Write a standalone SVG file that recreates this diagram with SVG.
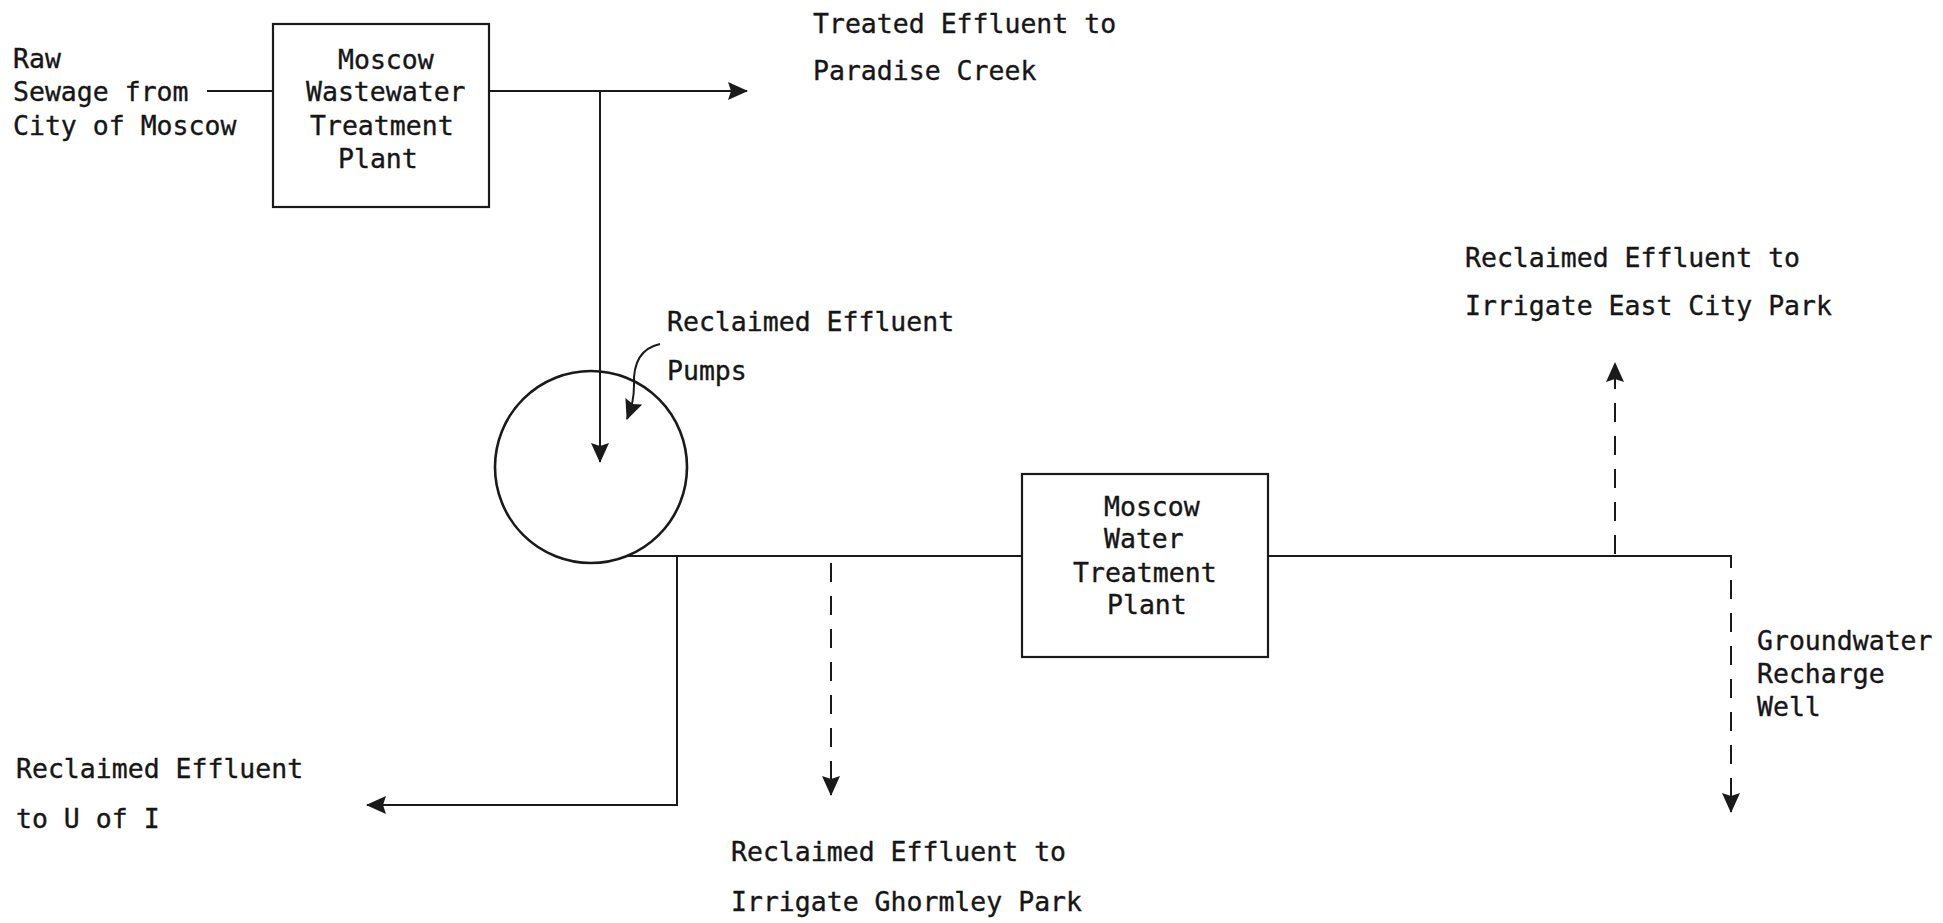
<svg xmlns="http://www.w3.org/2000/svg" width="1943" height="923" viewBox="0 0 1943 923">
  <defs>
    <style>
      .lbl { font-family: "DejaVu Sans Mono", "Liberation Mono", monospace; font-size: 26.5px; fill: #161616; stroke: #161616; stroke-width: 0.35; }
      .box { fill: none; stroke: #1a1a1a; stroke-width: 2.2; }
      .pipe { fill: none; stroke: #1a1a1a; stroke-width: 2; }
      .dash { fill: none; stroke: #1a1a1a; stroke-width: 2; stroke-dasharray: 19 14; }
    </style>
    <marker id="head" viewBox="0 0 20 18" refX="19" refY="9" markerWidth="20" markerHeight="18" markerUnits="userSpaceOnUse" orient="auto">
      <path d="M0,0 L20,9 L0,18 L3,9 z" fill="#1a1a1a"/>
    </marker>
  </defs>
  <rect width="1943" height="923" fill="#ffffff"/>

  <!-- Source label -->
  <g id="raw-sewage">
    <text class="lbl" x="13" y="68">Raw</text>
    <text class="lbl" x="13" y="101">Sewage from</text>
    <text class="lbl" x="13" y="135">City of Moscow</text>
  </g>

  <!-- Wastewater treatment plant -->
  <g id="wwtp">
    <rect class="box" x="273" y="24" width="216" height="183"/>
    <text class="lbl" x="338" y="69">Moscow</text>
    <text class="lbl" x="306" y="101">Wastewater</text>
    <text class="lbl" x="310" y="135">Treatment</text>
    <text class="lbl" x="338" y="168">Plant</text>
  </g>

  <g id="paradise-creek">
    <text class="lbl" x="813" y="33">Treated Effluent to</text>
    <text class="lbl" x="813" y="80">Paradise Creek</text>
  </g>

  <!-- Pump station -->
  <g id="pumps">
    <circle cx="591" cy="467" r="96" fill="none" stroke="#1a1a1a" stroke-width="2.6"/>
    <text class="lbl" x="667" y="331">Reclaimed Effluent</text>
    <text class="lbl" x="667" y="380">Pumps</text>
  </g>

  <!-- Water treatment plant -->
  <g id="wtp">
    <rect class="box" x="1022" y="474" width="246" height="183"/>
    <text class="lbl" x="1104" y="516">Moscow</text>
    <text class="lbl" x="1104" y="548">Water</text>
    <text class="lbl" x="1073" y="582">Treatment</text>
    <text class="lbl" x="1107" y="614">Plant</text>
  </g>

  <g id="u-of-i">
    <text class="lbl" x="16" y="778">Reclaimed Effluent</text>
    <text class="lbl" x="16" y="828">to U of I</text>
  </g>

  <g id="ghormley-park">
    <text class="lbl" x="731" y="861">Reclaimed Effluent to</text>
    <text class="lbl" x="731" y="911">Irrigate Ghormley Park</text>
  </g>

  <g id="east-city-park">
    <text class="lbl" x="1465" y="267">Reclaimed Effluent to</text>
    <text class="lbl" x="1465" y="315">Irrigate East City Park</text>
  </g>

  <g id="recharge-well">
    <text class="lbl" x="1757" y="650">Groundwater</text>
    <text class="lbl" x="1757" y="683">Recharge</text>
    <text class="lbl" x="1757" y="716">Well</text>
  </g>

  <!-- Flow lines -->
  <g id="connectors">
    <line class="pipe" x1="207" y1="91" x2="273" y2="91"/>
    <line class="pipe" x1="489" y1="91" x2="747" y2="91" marker-end="url(#head)"/>
    <line class="pipe" x1="600" y1="91" x2="600" y2="462" marker-end="url(#head)"/>
    <path class="pipe" d="M660,344 C642,348 633,362 634,385 C634,398 632,406 627,419" marker-end="url(#head)"/>
    <line class="pipe" x1="627" y1="556" x2="1022" y2="556"/>
    <polyline class="pipe" points="677,556 677,805 367,805" marker-end="url(#head)"/>
    <line class="dash" x1="831" y1="563" x2="831" y2="795" marker-end="url(#head)"/>
    <polyline class="pipe" points="1268,556 1731,556 1731,568"/>
    <line class="dash" x1="1731" y1="580" x2="1731" y2="812" marker-end="url(#head)"/>
    <line class="dash" x1="1615" y1="554" x2="1615" y2="363" marker-end="url(#head)"/>
  </g>
</svg>
